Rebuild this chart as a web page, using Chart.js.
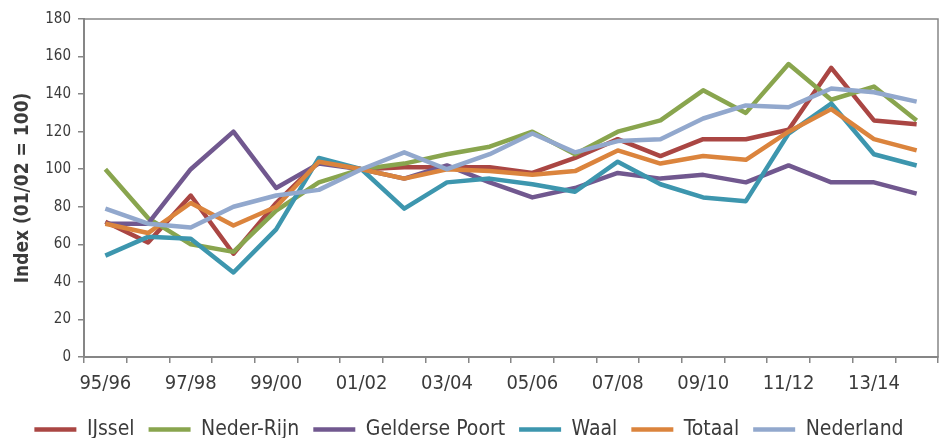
<!DOCTYPE html>
<html>
<head>
<meta charset="utf-8">
<script src="https://cdn.jsdelivr.net/npm/chart.js@4"></script>
<style>
  html, body { margin: 0; padding: 0; background: #fff; }
  #wrap { width: 939px; height: 438px; }
</style>
</head>
<body>
<div id="wrap"><canvas id="chart"></canvas></div>
<script>
const seizoenen = ['95/96','96/97','97/98','98/99','99/00','00/01','01/02','02/03','03/04','04/05',
                   '05/06','06/07','07/08','08/09','09/10','10/11','11/12','12/13','13/14','14/15'];

const ijssel    = [72, 61, 86, 55, 82, 104, 100, 101, 101, 101, 98, 106, 116, 107, 116, 116, 121, 154, 126, 124];
const nederRijn = [100, 74, 60, 56, 78, 93, 100, 103, 108, 112, 120, 108, 120, 126, 142, 130, 156, 137, 144, 126];
const gelderse  = [71, 71, 100, 120, 90, 103, 100, 95, 102, 93, 85, 90, 98, 95, 97, 93, 102, 93, 93, 87];
const waal      = [54, 64, 63, 45, 68, 106, 100, 79, 93, 95, 92, 88, 104, 92, 85, 83, 119, 135, 108, 102];
const totaal    = [71, 66, 82, 70, 80, 104, 100, 95, 100, 99, 97, 99, 110, 103, 107, 105, 120, 132, 116, 110];
const nederland = [79, 71, 69, 80, 86, 89, 100, 109, 100, 108, 119, 109, 115, 116, 127, 134, 133, 143, 141, 136];

const FONT = "'DejaVu Sans Condensed', 'DejaVu Sans', sans-serif";
const AXIS = '#868686';
const TEXT = '#3b3b3b';

function serie(label, data, color, order) {
    return {
        label: label,
        data: data,
        borderColor: color,
        backgroundColor: color,
        borderWidth: 4.5,
        borderJoinStyle: 'round',
        pointRadius: 0,
        tension: 0,
        order: order
    };
}

// rand rond het plotgebied
const kader = {
    id: 'kader',
    afterDraw(chart) {
        const a = chart.chartArea;
        const ctx = chart.ctx;
        ctx.save();
        ctx.strokeStyle = AXIS;
        ctx.lineWidth = 1.5;
        ctx.strokeRect(a.left, a.top, a.right - a.left, a.bottom - a.top);
        ctx.restore();
    }
};

new Chart(document.getElementById('chart'), {
    type: 'line',
    data: {
        labels: seizoenen,
        datasets: [
            serie('IJssel', ijssel, '#AA4643', 5),
            serie('Neder-Rijn', nederRijn, '#89A54E', 4),
            serie('Gelderse Poort', gelderse, '#71588F', 3),
            serie('Waal', waal, '#3D96AE', 2),
            serie('Totaal', totaal, '#DB843D', 1),
            serie('Nederland', nederland, '#92A8CD', 0)
        ]
    },
    plugins: [kader],
    options: {
        responsive: true,
        maintainAspectRatio: false,
        animation: false,
        layout: { padding: { top: 19, right: 1, left: 0, bottom: -12 } },
        scales: {
            x: {
                offset: true,
                afterFit: (s) => { s.height = 48; },
                grid: { display: true, drawOnChartArea: false, offset: true, tickLength: 6, color: AXIS, lineWidth: 1.5 },
                border: { display: true, color: AXIS, width: 2 },
                ticks: {
                    autoSkip: false,
                    maxRotation: 0,
                    padding: 9,
                    color: TEXT,
                    font: { family: FONT, size: 20 },
                    callback: function(val, i) { return i % 2 === 0 ? this.getLabelForValue(val) : ''; }
                }
            },
            y: {
                min: 0,
                max: 180,
                afterFit: (s) => { s.width = 84; },
                grid: { display: true, drawOnChartArea: false, tickLength: 6, color: AXIS, lineWidth: 1.5 },
                border: { display: true, color: AXIS, width: 2 },
                ticks: {
                    stepSize: 20,
                    padding: 7,
                    color: TEXT,
                    font: { family: FONT, size: 15 }
                },
                title: {
                    display: true,
                    text: 'Index (01/02 = 100)',
                    color: TEXT,
                    padding: { top: 12, bottom: 0 },
                    font: { family: FONT, size: 19, weight: 'bold' }
                }
            }
        },
        plugins: {
            tooltip: { enabled: false },
            legend: {
                position: 'bottom',
                labels: {
                    usePointStyle: true,
                    pointStyle: 'line',
                    pointStyleWidth: 42,
                    padding: 14,
                    color: TEXT,
                    font: { family: FONT, size: 21 },
                    sort: (a, b) => a.datasetIndex - b.datasetIndex
                }
            }
        }
    }
});
</script>
</body>
</html>
